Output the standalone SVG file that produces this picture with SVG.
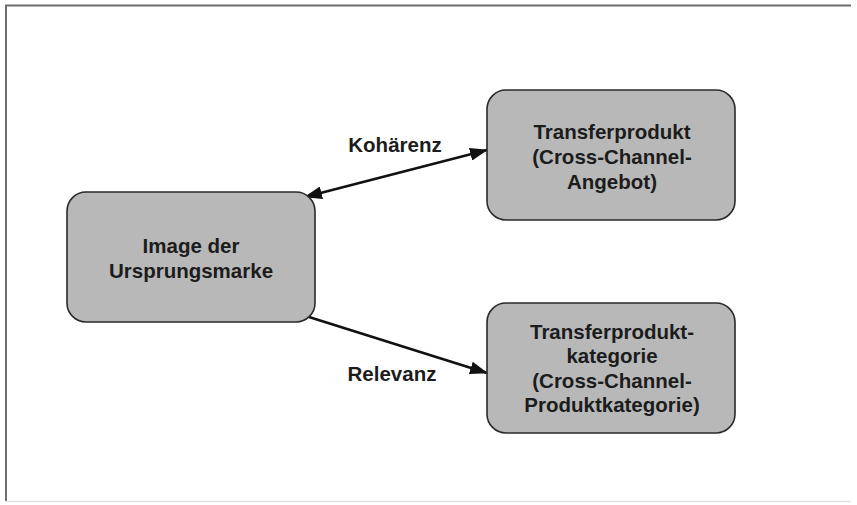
<svg xmlns="http://www.w3.org/2000/svg" width="857" height="505" viewBox="0 0 857 505">
<style>
.box{fill:#b8b8b8;stroke:#2a2a2a;stroke-width:1.6}
.t{font-family:"Liberation Sans",Arial,sans-serif;font-weight:bold;font-size:20.5px;fill:#1c1c1c;text-anchor:middle}
.edge{stroke:#111;stroke-width:2.6;fill:none}
</style>
<defs>
<marker id="ah" viewBox="0 0 18 13" refX="17" refY="6.5" markerWidth="18" markerHeight="13" markerUnits="userSpaceOnUse" orient="auto-start-reverse">
<path d="M0,0 L18,6.5 L0,13 Z" fill="#111"/>
</marker>
</defs>
<rect width="857" height="505" fill="#fff"/>
<g id="frame">
<path d="M6,501 V5.5 H851" fill="none" stroke="#6e6e6e" stroke-width="2"/>
<path d="M6,501.5 H851" fill="none" stroke="#e2e2e2" stroke-width="1.5"/>
</g>
<g id="connectors">
<line class="edge" x1="305" y1="197" x2="487" y2="150" marker-start="url(#ah)" marker-end="url(#ah)"/>
<line class="edge" x1="309" y1="317" x2="487" y2="373" marker-end="url(#ah)"/>
<text class="t" x="395" y="152">Kohärenz</text>
<text class="t" x="392" y="381">Relevanz</text>
</g>
<g id="node-image">
<rect class="box" x="67" y="192" width="248" height="130" rx="19"/>
<text class="t" x="191" y="253">Image der</text>
<text class="t" x="191" y="278">Ursprungsmarke</text>
</g>
<g id="node-transferprodukt">
<rect class="box" x="487" y="90" width="248" height="130" rx="19"/>
<text class="t" x="612" y="139">Transferprodukt</text>
<text class="t" x="612" y="164">(Cross-Channel-</text>
<text class="t" x="612" y="189">Angebot)</text>
</g>
<g id="node-kategorie">
<rect class="box" x="487" y="303" width="248" height="130" rx="19"/>
<text class="t" x="612" y="339">Transferprodukt-</text>
<text class="t" x="612" y="363">kategorie</text>
<text class="t" x="612" y="388">(Cross-Channel-</text>
<text class="t" x="612" y="412">Produktkategorie)</text>
</g>
</svg>
